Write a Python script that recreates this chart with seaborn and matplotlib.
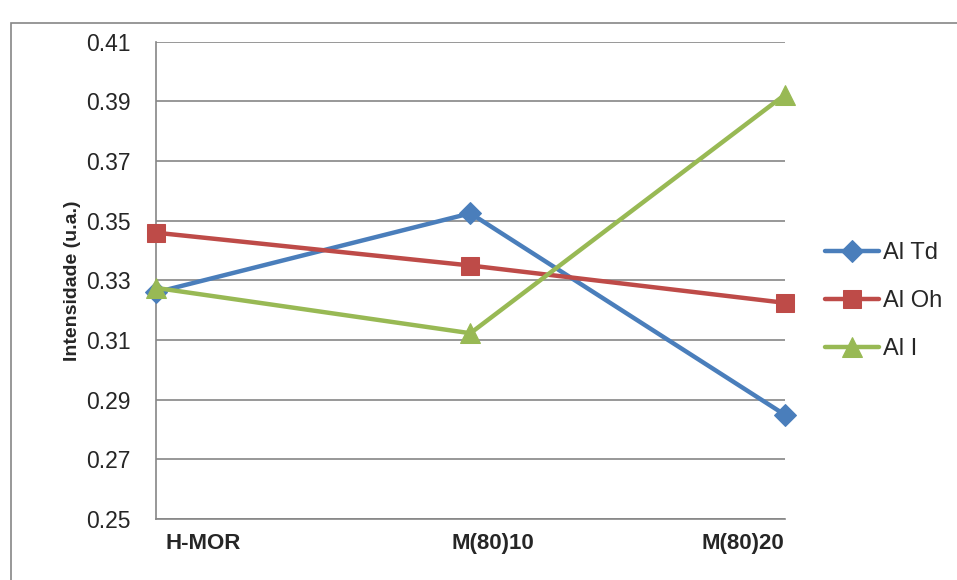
import matplotlib
matplotlib.use('Agg')
import matplotlib.pyplot as plt
import matplotlib.transforms as mtransforms
import seaborn as sns
import pandas as pd
from matplotlib.patches import Rectangle

# --- data --- #
samples = ['H-MOR', 'M(80)10', 'M(80)20']
al_td = [0.326, 0.3525, 0.285]
al_oh = [0.346, 0.335, 0.3225]
al_i = [0.3275, 0.3123, 0.3922]
series_names = ['Al Td', 'Al Oh', 'Al I']
y_ticks = [0.25, 0.27, 0.29, 0.31, 0.33, 0.35, 0.37, 0.39, 0.41]

colors = {'Al Td': '#4A7EBB', 'Al Oh': '#BE4B48', 'Al I': '#98B954'}
markers = {'Al Td': 'D', 'Al Oh': 's', 'Al I': '^'}
sizes = {'Al Td': 11, 'Al Oh': 13, 'Al I': 15}

df = pd.DataFrame({
    'amostra': samples * 3,
    'pos': list(range(len(samples))) * 3,
    'valor': al_td + al_oh + al_i,
    'serie': [s for s in series_names for _ in samples],
})

sns.set_style('white')
plt.rcParams['font.family'] = ['Liberation Sans', 'DejaVu Sans']

fig = plt.figure(figsize=(9.57, 5.8), dpi=100)
ax = fig.add_axes([0.163, 0.105, 0.657, 0.823])

# chart border
fig.patches.append(Rectangle((0.011, -0.01), 0.995, 0.97, transform=fig.transFigure,
                             fill=False, edgecolor='#868686', linewidth=1.2))

for name in series_names:
    sub = df[df['serie'] == name]
    sns.lineplot(data=sub, x='pos', y='valor', ax=ax, color=colors[name],
                 marker=markers[name], markersize=sizes[name], markeredgecolor=colors[name],
                 linewidth=3.2, label=name, sort=False, clip_on=False, zorder=3)

ax.set_xlim(0, len(samples) - 1)
ax.set_ylim(y_ticks[0], y_ticks[-1])
ax.set_yticks(y_ticks)
ax.set_yticklabels([f'{t:.2f}' for t in y_ticks], fontsize=16.5)
ax.set_xticks(range(len(samples)))
ax.set_xticklabels([])
ax.set_xlabel('')
ax.set_ylabel('Intensidade (u.a.)', fontsize=14, fontweight='bold', labelpad=4)

# Excel-like placement of category labels (kept inside the plot width)
offsets = [(10, 'left'), (23, 'center'), (0, 'right')]
for i, (name, (dx, ha)) in enumerate(zip(samples, offsets)):
    tr = ax.get_xaxis_transform() + mtransforms.ScaledTranslation(dx / 100, -0.14, fig.dpi_scale_trans)
    ax.text(i, 0, name, transform=tr, ha=ha, va='top', fontsize=16, fontweight='bold')

ax.yaxis.grid(True, color='#868686', linewidth=1.2)
ax.set_axisbelow(True)
for s in ['top', 'right']:
    ax.spines[s].set_visible(False)
for s in ['left', 'bottom']:
    ax.spines[s].set_color('#868686')
    ax.spines[s].set_linewidth(1.2)
ax.tick_params(axis='y', length=0, pad=18)
ax.tick_params(axis='x', length=0, pad=10)

leg = ax.legend(loc='center left', bbox_to_anchor=(1.0, 0.456), frameon=False,
                fontsize=17, handlelength=2.3, labelspacing=1.1, handletextpad=0.15,
                borderaxespad=1.3)

fig.savefig('out.png', dpi=100)
